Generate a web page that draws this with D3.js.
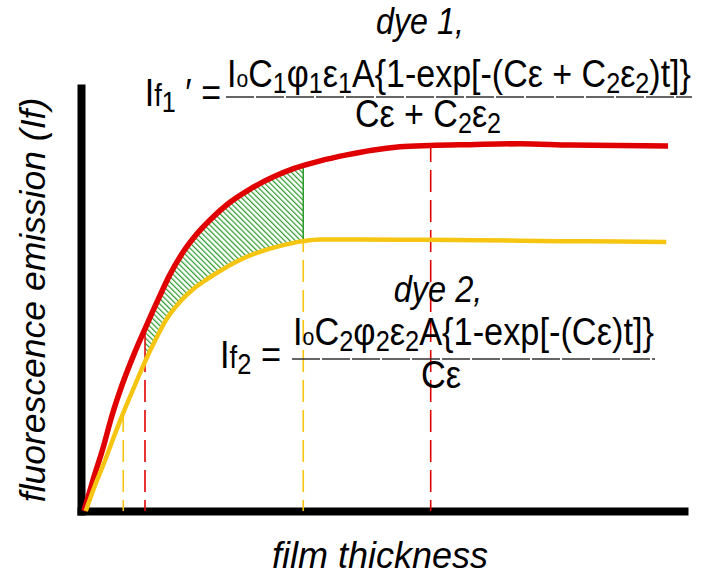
<!DOCTYPE html>
<html>
<head>
<meta charset="utf-8">
<script src="https://cdn.jsdelivr.net/npm/d3@7"></script>
<style>
  body { margin: 0; background: #fff; }
  svg text { font-family: "Liberation Sans", Arial, Helvetica, sans-serif; fill: #000; white-space: pre; }
  .lbl { font-style: italic; }
</style>
</head>
<body>
<div class="chart"></div>
<script>
// Curves: film thickness (x) vs emission (y), 0-100 units

const dye1Thickness = [0, 1.5, 3.2, 4.6, 6.3, 8.3, 10.3, 12.3, 14.2, 16.2, 18.4, 20.9, 23.8, 27.5, 31.3, 34.9, 39.1, 43.5, 47.7, 52.3, 57.3, 63.9, 72.2, 80.5, 88.7, 96.7];
const dye1Emission = [0, 7.3, 15.0, 22.2, 29.5, 36.8, 43.3, 49.6, 55.3, 60.2, 64.4, 68.2, 71.9, 75.4, 78.2, 80.3, 82.0, 83.4, 84.5, 85.3, 85.6, 85.8, 86.0, 85.7, 85.6, 85.5];

const dye2Thickness = [0.3, 1.8, 3.5, 5.0, 6.5, 8.8, 10.3, 11.9, 13.7, 15.9, 18.1, 20.4, 22.5, 25.8, 29.1, 32.5, 36.3, 39.1, 45.7, 55.6, 65.6, 78.8, 88.7, 96.4];
const dye2Emission = [0, 5.9, 11.9, 17.6, 23.0, 30.7, 35.6, 40.3, 45.0, 49.0, 52.0, 54.3, 56.2, 58.8, 60.7, 62.1, 63.2, 63.6, 63.6, 63.5, 63.4, 63.2, 63.1, 63.0];

// Dashed guide lines: thickness, colour of the line (dye), curve it drops from
const guideThickness = [6.5, 10.1, 36.3, 57.4];
const guideColorDye = [2, 1, 2, 1];
const guideFromDye = [2, 2, 2, 1];

// Hatched span between the two curves
const hatchSpan = [10.1, 36.3];

const xTitle = "film thickness";
const yTitle = "fluorescence emission (If)";

// Formula pieces: [text, kind]  n = normal, s = subscript, o = small o, f = small f
const dye1Label = "dye 1,";
const dye1Lhs = [["I", "n"], ["f", "f"], ["1", "s"], [" \u2032 =", "n"]];
const dye1Num = [["I", "n"], ["o", "o"], ["C", "n"], ["1", "s"], ["φ", "n"], ["1", "s"], ["ε", "n"], ["1", "s"], ["A{1-exp[-(Cε + C", "n"], ["2", "s"], ["ε", "n"], ["2", "s"], [")t]}", "n"]];
const dye1Den = [["Cε + C", "n"], ["2", "s"], ["ε", "n"], ["2", "s"]];

const dye2Label = "dye 2,";
const dye2Lhs = [["I", "n"], ["f", "f"], ["2", "s"], [" =", "n"]];
const dye2Num = [["I", "n"], ["o", "o"], ["C", "n"], ["2", "s"], ["φ", "n"], ["2", "s"], ["ε", "n"], ["2", "s"], ["A{1-exp[-(Cε)t]}", "n"]];
const dye2Den = [["Cε", "n"]];

// Measurements

const w = 720;
const h = 578;
const fontSize = 35;
const mathSize = 39;
const red = "#e00000";
const yellow = "#f6c512";
const green = "#2a9a2a";
const dyeColor = { 1: red, 2: yellow };

const svg = d3
  .select(".chart")
  .append("svg")
  .attr("width", w)
  .attr("height", h);

const defs = svg.append("defs");

// Scales

const xScale = d3.scaleLinear().domain([0, 100]).range([84, 688]);
const yScale = d3.scaleLinear().domain([0, 100]).range([511, 84]);

const dye1 = d3.zip(dye1Thickness, dye1Emission);
const dye2 = d3.zip(dye2Thickness, dye2Emission);
const curves = { 1: dye1, 2: dye2 };

const line = d3
  .line()
  .x((d) => xScale(d[0]))
  .y((d) => yScale(d[1]))
  .curve(d3.curveMonotoneX);

const under = d3
  .area()
  .x((d) => xScale(d[0]))
  .y0(yScale(0))
  .y1((d) => yScale(d[1]))
  .curve(d3.curveMonotoneX);

// Clips: area under each curve, and the band between them

[1, 2].forEach((k) => {
  defs
    .append("clipPath")
    .attr("id", "under" + k)
    .append("path")
    .attr("d", under(curves[k]));
});

const band = defs.append("mask").attr("id", "band");
band.append("rect").attr("width", w).attr("height", h).attr("fill", "black");
band.append("path").attr("d", under(dye1)).attr("fill", "white");
band.append("path").attr("d", under(dye2)).attr("fill", "black");

const hatch = defs
  .append("pattern")
  .attr("id", "hatch")
  .attr("patternUnits", "userSpaceOnUse")
  .attr("width", 3.8)
  .attr("height", 3.8)
  .attr("patternTransform", "rotate(-45)");
hatch
  .append("line")
  .attr("x1", 0.6)
  .attr("x2", 0.6)
  .attr("y1", 0)
  .attr("y2", 3.8)
  .attr("stroke", green)
  .attr("stroke-width", 1.2);

// Axes (no ticks, just the heavy lines)

svg
  .append("g")
  .attr("transform", `translate(0, 511)`)
  .call(d3.axisBottom(xScale.copy().range([77, 688])).tickValues([]).tickSizeOuter(0))
  .call((g) => g.select(".domain").attr("stroke", "#000").attr("stroke-width", 8));

svg
  .append("g")
  .attr("transform", `translate(81, 0)`)
  .call(d3.axisLeft(yScale.copy().range([515, 84])).tickValues([]).tickSizeOuter(0))
  .call((g) => g.select(".domain").attr("stroke", "#000").attr("stroke-width", 8));

// Hatched band

const bandG = svg.append("g").attr("mask", "url(#band)");

bandG
  .append("rect")
  .attr("x", xScale(hatchSpan[0]))
  .attr("width", xScale(hatchSpan[1]) - xScale(hatchSpan[0]))
  .attr("y", yScale(100))
  .attr("height", yScale(0) - yScale(100))
  .attr("fill", "url(#hatch)");

bandG
  .selectAll("line")
  .data(hatchSpan)
  .enter()
  .append("line")
  .attr("x1", (d) => xScale(d))
  .attr("x2", (d) => xScale(d))
  .attr("y1", yScale(100))
  .attr("y2", yScale(0))
  .attr("stroke", (d, i) => (i === 0 ? red : green))
  .attr("stroke-width", 1.5);

// Dashed guides

guideThickness.forEach((t, i) => {
  svg
    .append("line")
    .attr("clip-path", `url(#under${guideFromDye[i]})`)
    .attr("x1", xScale(t))
    .attr("x2", xScale(t))
    .attr("y1", yScale(100))
    .attr("y2", yScale(0))
    .attr("stroke", dyeColor[guideColorDye[i]])
    .attr("stroke-width", 1.6)
    .attr("stroke-dasharray", "22,8")
    .attr("stroke-dashoffset", 4);
});

// Curves

svg
  .append("path")
  .attr("d", line(dye1))
  .attr("fill", "none")
  .attr("stroke", red)
  .attr("stroke-width", 5.5);

svg
  .append("path")
  .attr("d", line(dye2))
  .attr("fill", "none")
  .attr("stroke", yellow)
  .attr("stroke-width", 4.5);

// Axis titles

svg
  .append("text")
  .attr("class", "lbl")
  .attr("x", 380)
  .attr("y", 568)
  .attr("text-anchor", "middle")
  .attr("font-size", fontSize + 1)
  .text(xTitle);

svg
  .append("text")
  .attr("class", "lbl")
  .attr("transform", "translate(45, 300) rotate(-90)")
  .attr("text-anchor", "middle")
  .attr("font-size", fontSize + 0.5)
  .text(yTitle);

// Formulas

function mathText(g, segs, x, y, anchor) {
  const t = g
    .append("text")
    .attr("x", x)
    .attr("y", y)
    .attr("text-anchor", anchor)
    .attr("font-size", mathSize);
  let shift = 0;
  segs.forEach(([s, k]) => {
    const sc = k === "s" ? 0.74 : k === "o" ? 0.62 : k === "f" ? 0.8 : 1;
    const down = k === "s" ? mathSize * 0.15 : 0;
    t.append("tspan")
      .attr("dy", down - shift)
      .attr("font-size", mathSize * sc)
      .text(s);
    shift = down;
  });
  return t;
}

// narrow the type around x = cx
function squeeze(sel, cx, k) {
  sel.attr("transform", `translate(${cx}, 0) scale(${k}, 1) translate(${-cx}, 0)`);
}

function formula(o) {
  const g = svg.append("g");
  const mid = (o.x0 + o.x1) / 2;

  const num = mathText(g, o.num, mid, o.lineY - o.numGap, "middle");
  // numerator spans the fraction bar
  const k = (o.x1 - o.x0 - 2) / num.node().getComputedTextLength();
  squeeze(num, mid, k);

  squeeze(mathText(g, o.den, o.denX, o.lineY + o.denGap, "middle"), o.denX, k);
  const lx = o.x0 - o.lhsGap;
  squeeze(mathText(g, o.lhs, lx, o.lineY + 9, "end"), lx, k);

  g.append("line")
    .attr("x1", o.x0)
    .attr("x2", o.x1)
    .attr("y1", o.lineY)
    .attr("y2", o.lineY)
    .attr("stroke", "#333")
    .attr("stroke-width", 1.6)
    .attr("stroke-dasharray", "28,2");

  const lab = g
    .append("text")
    .attr("class", "lbl")
    .attr("x", o.labelX)
    .attr("y", o.labelY)
    .attr("text-anchor", "middle")
    .attr("font-size", mathSize - 2)
    .text(o.label);
  squeeze(lab, o.labelX, k);
}

formula({
  label: dye1Label, labelX: 420, labelY: 34,
  lhs: dye1Lhs, num: dye1Num, den: dye1Den,
  x0: 226, x1: 692, lineY: 97, numGap: 10, denGap: 30, denX: 428, lhsGap: 5,
});

formula({
  label: dye2Label, labelX: 438, labelY: 302,
  lhs: dye2Lhs, num: dye2Num, den: dye2Den,
  x0: 292, x1: 655, lineY: 359, numGap: 14, denGap: 29, denX: 441, lhsGap: 11,
});
</script>
</body>
</html>
